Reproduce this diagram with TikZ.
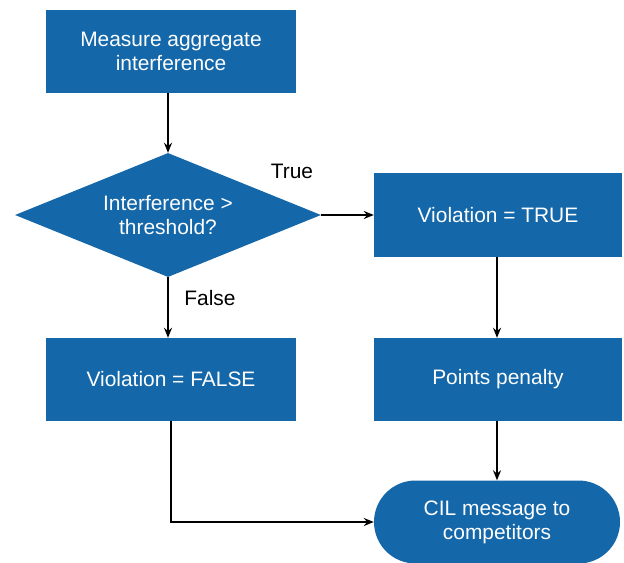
\documentclass[tikz,border=0pt]{standalone}
\usepackage{fontspec}
\setmainfont{Liberation Sans}
\usetikzlibrary{arrows.meta, positioning, shapes.geometric}
\definecolor{FlowBlue}{HTML}{1467A9}

\begin{document}
\begin{tikzpicture}[x=1bp, y=1bp,
    every node/.style={font=\fontsize{21}{24}\selectfont},
    procbox/.style={fill=FlowBlue, text=white, align=center, inner sep=0pt,
        minimum width=250bp, minimum height=83bp},
    decbox/.style={diamond, fill=FlowBlue, text=white, align=center, inner sep=0pt,
        aspect=2.47, minimum width=306bp, minimum height=124bp},
    termbox/.style={procbox, rounded corners=41.5bp, minimum width=246bp},
    flow/.style={-{Stealth[length=10bp, width=8bp]}, line width=1.5bp, black}]
    \useasboundingbox (0,0) rectangle (624,-563);

    % Boxes
    \node[procbox] (measure) at (171,-51.5) {Measure aggregate\\interference};
    \node[decbox] (decide) at (168,-215) {Interference >\\threshold?};
    \node[procbox, minimum width=248bp] (vtrue) at (498,-215) {Violation = TRUE};
    \node[procbox] (vfalse) at (171,-379.5) {Violation = FALSE};
    \node[procbox, minimum width=248bp] (penalty) at (498,-379.5) {Points penalty};
    \node[termbox] (cil) at (497,-522) {CIL message to\\competitors};

    % Connectors
    \draw[flow] (measure.south -| decide.north) -- (decide.north);
    \draw[flow] (decide.east) -- (vtrue.west);
    \draw[flow] (decide.south) -- (decide.south |- vfalse.north);
    \draw[flow] (vtrue.south -| cil.north) -- (penalty.north -| cil.north);
    \draw[flow] (penalty.south -| cil.north) -- (cil.north);
    \draw[flow] (vfalse.south) -- (vfalse.south |- cil.west) -- (cil.west);

    % Branch labels
    \node (truelbl) at (292,-171) {True};
    \node (falselbl) at (210,-298) {False};
\end{tikzpicture}
\end{document}
